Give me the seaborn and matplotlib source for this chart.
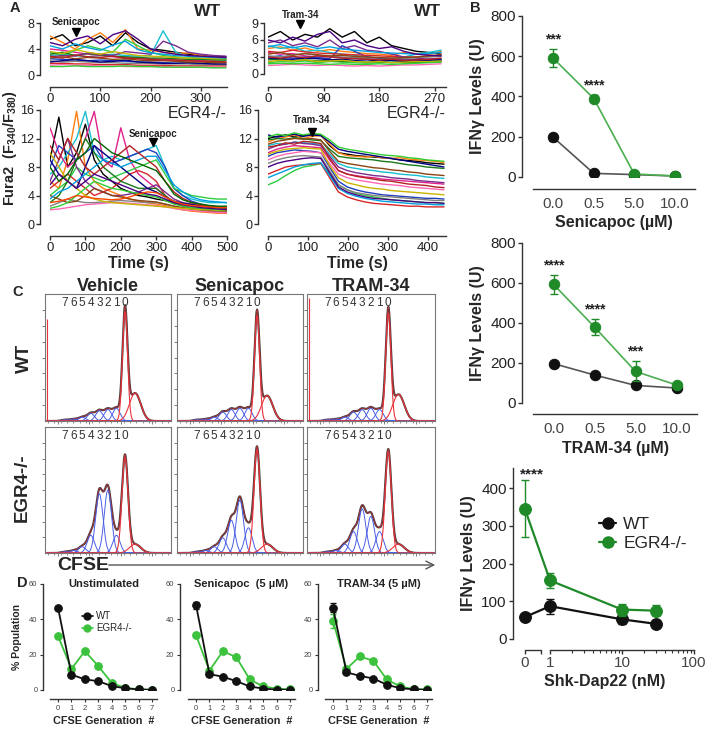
"""
Multi-panel figure: Fura2 calcium traces (A), IFNg levels (B),
CFSE proliferation histograms (C) and generation percentages (D).
"""
import numpy as np
import pandas as pd
import matplotlib
matplotlib.use("Agg")
import matplotlib.pyplot as plt
import matplotlib.transforms as mtransforms
from matplotlib.lines import Line2D
from matplotlib.patches import FancyArrowPatch
import seaborn as sns

sns.set_theme(style="ticks")
plt.rcParams["font.family"] = ["Liberation Sans", "DejaVu Sans"]
plt.rcParams["mathtext.fontset"] = "custom"
plt.rcParams["mathtext.rm"] = "Liberation Sans"
plt.rcParams["mathtext.bf"] = "Liberation Sans:bold"
plt.rcParams["mathtext.it"] = "Liberation Sans:italic"

# ---------------- Panel A: Fura2 ratio traces ----------------
t_wt_sen = [0, 25, 50, 75, 100, 125, 150, 175, 200, 225, 250, 275, 300, 325, 350]
wt_sen_traces = [
    [5.5, 6.2, 4.5, 5.0, 6.0, 4.5, 6.5, 5.0, 4.0, 3.8, 3.5, 3.2, 3.0, 2.8, 2.8],
    [6.0, 5.0, 4.0, 5.5, 6.5, 5.0, 7.0, 4.0, 3.8, 3.5, 3.3, 3.4, 3.0, 2.8, 2.6],
    [3.0, 3.2, 3.0, 2.8, 3.0, 3.2, 3.0, 2.9, 3.0, 6.8, 3.5, 2.8, 2.6, 2.5, 2.4],
    [4.0, 3.8, 3.5, 3.2, 3.0, 2.8, 2.7, 2.6, 2.5, 2.4, 2.3, 2.2, 2.2, 2.1, 2.0],
    [2.5, 2.4, 2.3, 2.2, 2.3, 2.2, 2.1, 2.0, 2.0, 1.9, 1.8, 1.8, 1.7, 1.7, 1.6],
    [3.5, 3.0, 3.8, 4.5, 4.0, 3.5, 5.5, 4.5, 3.5, 3.0, 2.8, 2.6, 2.5, 2.4, 2.3],
    [1.8, 1.8, 1.7, 1.7, 1.6, 1.6, 1.6, 1.5, 1.5, 1.5, 1.4, 1.4, 1.4, 1.4, 1.4],
    [3.2, 3.5, 3.0, 3.3, 3.1, 2.9, 2.8, 2.7, 2.6, 2.6, 2.5, 2.4, 2.4, 2.3, 2.3],
    [1.5, 1.6, 1.5, 1.5, 1.4, 1.4, 1.3, 1.3, 1.3, 1.3, 1.2, 1.2, 1.2, 1.2, 1.2],
    [2.8, 3.0, 2.9, 3.4, 3.2, 3.0, 3.6, 3.4, 3.2, 5.2, 4.5, 3.5, 3.2, 3.0, 2.9],
    [2.2, 2.0, 2.1, 2.0, 1.9, 1.9, 1.8, 1.8, 1.8, 1.7, 1.7, 1.7, 1.6, 1.6, 1.6],
    [2.0, 2.2, 2.4, 2.2, 2.0, 2.1, 2.3, 2.0, 1.9, 1.8, 1.8, 1.9, 1.8, 1.7, 1.7],
    [2.6, 2.8, 2.5, 2.7, 2.6, 2.4, 2.5, 2.3, 2.2, 2.2, 2.1, 2.0, 2.0, 1.9, 1.9],
    [3.6, 3.3, 3.9, 3.5, 3.2, 3.6, 3.3, 3.0, 2.9, 2.8, 2.7, 2.6, 2.6, 2.5, 2.5],
    [4.5, 4.0, 4.8, 4.2, 3.8, 4.6, 5.2, 3.9, 3.4, 3.2, 3.0, 2.9, 2.8, 2.7, 2.6],
    [1.3, 1.3, 1.4, 1.3, 1.3, 1.3, 1.4, 1.3, 1.3, 1.2, 1.2, 1.2, 1.2, 1.1, 1.1],
    [2.9, 2.6, 3.1, 2.8, 2.7, 2.9, 2.6, 2.5, 2.4, 2.3, 2.3, 2.2, 2.1, 2.1, 2.0],
    [5.0, 4.5, 5.5, 6.0, 4.8, 6.2, 6.8, 5.5, 4.0, 3.5, 3.2, 3.0, 2.9, 2.8, 2.7],
]

t_wt_tram = [0, 20, 40, 60, 80, 100, 120, 140, 160, 180, 200, 220, 240, 260, 280]
wt_tram_traces = [
    [6.5, 7.5, 6.0, 7.0, 6.5, 8.0, 6.5, 7.5, 5.5, 6.5, 5.0, 4.5, 4.0, 3.8, 3.5],
    [4.5, 4.8, 4.2, 4.6, 4.0, 4.3, 4.0, 3.8, 3.6, 3.5, 3.3, 3.8, 3.6, 3.4, 4.0],
    [5.0, 4.5, 4.8, 4.0, 4.2, 3.8, 3.5, 3.3, 3.0, 2.8, 2.7, 3.0, 3.5, 3.8, 4.2],
    [3.8, 3.5, 3.6, 3.2, 3.0, 3.1, 2.9, 2.8, 2.7, 2.6, 2.5, 2.4, 2.4, 2.3, 2.3],
    [3.0, 3.2, 2.8, 3.0, 2.9, 2.7, 5.0, 4.0, 3.0, 2.8, 2.6, 2.5, 2.5, 2.6, 2.7],
    [2.0, 2.2, 2.1, 2.3, 2.0, 2.2, 2.1, 2.0, 1.9, 2.0, 2.1, 2.0, 2.2, 2.3, 2.4],
    [4.0, 3.8, 4.2, 3.9, 3.7, 3.6, 3.5, 3.4, 3.3, 3.2, 3.1, 3.0, 3.0, 3.1, 3.2],
    [2.5, 2.6, 2.4, 2.5, 2.3, 2.4, 2.2, 2.3, 2.1, 2.2, 2.0, 2.1, 2.0, 2.1, 2.2],
    [1.5, 1.6, 1.7, 1.6, 1.5, 1.6, 1.5, 1.4, 1.5, 1.4, 1.5, 1.6, 1.6, 1.7, 1.8],
    [5.5, 6.0, 5.0, 5.5, 4.8, 6.0, 4.5, 5.0, 4.2, 4.0, 3.5, 3.0, 2.8, 2.6, 2.5],
    [3.2, 3.0, 3.4, 3.6, 3.3, 3.1, 3.0, 2.9, 2.8, 2.9, 2.8, 2.7, 2.9, 3.0, 3.1],
    [2.8, 2.7, 2.6, 2.8, 2.7, 2.5, 2.6, 2.4, 2.5, 2.3, 2.4, 2.2, 2.3, 2.4, 2.5],
    [3.5, 3.8, 3.3, 3.6, 3.4, 3.2, 3.3, 3.1, 3.0, 2.9, 2.8, 2.9, 3.0, 3.2, 3.4],
    [2.2, 2.4, 2.3, 2.5, 2.2, 2.3, 2.4, 2.2, 2.1, 2.2, 2.0, 2.1, 2.2, 2.2, 2.3],
    [4.8, 5.2, 4.6, 5.0, 4.5, 4.8, 4.4, 4.2, 4.0, 3.8, 3.7, 3.6, 3.5, 3.6, 3.8],
    [1.8, 1.9, 1.8, 1.9, 1.8, 1.7, 1.8, 1.7, 1.7, 1.8, 1.7, 1.8, 1.9, 2.0, 2.1],
    [3.0, 2.8, 3.1, 2.9, 3.2, 3.0, 2.8, 2.7, 2.6, 2.5, 2.6, 2.4, 2.5, 2.6, 2.8],
    [6.0, 5.5, 6.5, 5.8, 7.0, 7.5, 5.5, 6.0, 5.0, 4.5, 4.8, 4.0, 3.5, 3.3, 3.2],
]

t_egr_sen = [0, 25, 50, 75, 100, 125, 150, 175, 200, 225, 250, 275, 300, 325, 350,
             375, 400, 425, 450, 475, 500]
egr_sen_traces = [
    [9, 15, 8, 10, 14, 9, 7, 6, 5, 4.5, 4, 3.8, 3.5, 3.3, 3.0, 2.8, 2.6, 2.5, 2.4, 2.3, 2.3],
    [6, 5, 9, 15.8, 8, 6, 5, 4.5, 4, 3.5, 3.2, 3, 2.8, 2.6, 2.2, 2, 1.8, 1.7, 1.6, 1.5, 1.5],
    [7, 8, 10, 12, 15.8, 10, 9, 9.5, 9, 9.5, 10, 10.5, 11, 8, 5, 4, 3.5, 3.2, 3, 3, 3],
    [13.5, 10, 8, 9, 12, 15.8, 9, 8, 13.5, 9, 7, 6, 5, 4, 3, 2.5, 2.2, 2, 1.8, 1.7, 1.6],
    [8, 11, 10, 9, 10, 11, 9, 8.5, 9, 9.5, 10, 10.5, 10, 8, 5, 4, 3.2, 2.8, 2.5, 2.4, 2.3],
    [4, 5, 6, 8, 7, 6.5, 6, 6.5, 7, 7.5, 8, 8.5, 9, 7, 5, 4.5, 4, 3.8, 3.6, 3.5, 3.5],
    [5, 6, 7, 6, 5, 4, 4.5, 5, 6, 7, 7.5, 7, 6, 4, 3, 2.6, 2.3, 2.1, 2.0, 1.9, 1.8],
    [3, 4, 6, 9, 12, 10, 8, 7, 6, 5.5, 5, 5, 5, 4, 3, 2.8, 2.6, 2.5, 2.4, 2.3, 2.2],
    [2, 2.1, 2.3, 2.5, 2.7, 2.8, 2.9, 3, 3, 2.9, 2.8, 2.7, 2.6, 2.4, 2.2, 2, 1.9, 1.8, 1.7, 1.6, 1.6],
    [6, 9, 12, 8, 6, 5, 4.5, 4, 4, 4.2, 4.5, 5, 5.5, 4.5, 3.5, 3, 2.8, 2.6, 2.5, 2.4, 2.4],
    [2.5, 3, 3.5, 3.2, 3, 3, 3.1, 3.2, 3.3, 3.2, 3.1, 3, 3, 2.8, 2.5, 2.3, 2.1, 2, 1.9, 1.8, 1.8],
    [9, 7, 6, 5, 8, 11, 10, 9, 8, 7, 6, 5, 4.5, 3.8, 3.2, 2.9, 2.7, 2.5, 2.4, 2.3, 2.3],
    [4, 3.5, 3, 3.2, 4, 5, 4.5, 4, 3.8, 3.5, 3.3, 3.2, 3.1, 2.8, 2.5, 2.3, 2.1, 2, 1.9, 1.9, 1.8],
    [10, 8, 6, 5, 4, 3.5, 3.2, 3, 2.9, 2.8, 2.7, 2.6, 2.5, 2.4, 2.3, 2.2, 2.1, 2, 2, 1.9, 1.9],
    [3.5, 4.5, 5, 6, 7, 8, 9, 8.5, 8, 8.5, 9, 9.5, 9.5, 7.5, 5.5, 4.5, 3.8, 3.4, 3.2, 3.1, 3.0],
    [2.2, 2.5, 3, 4, 5, 6, 5.5, 5, 4.8, 4.5, 4.3, 4.0, 3.8, 3.3, 2.8, 2.5, 2.3, 2.2, 2.1, 2.0, 2.0],
    [11, 9, 12, 10, 8, 7, 8, 9, 10, 11, 10, 9, 8, 6, 4.5, 3.6, 3.0, 2.7, 2.5, 2.4, 2.3],
    [5.5, 7, 6, 5, 6, 7, 6.5, 6, 5.5, 5, 4.5, 4.2, 4, 3.5, 3, 2.7, 2.5, 2.3, 2.2, 2.1, 2.0],
    [3, 3.2, 3.5, 4, 3.8, 3.6, 3.5, 3.4, 3.5, 3.8, 4.2, 4.5, 4.4, 3.8, 3.2, 2.8, 2.6, 2.5, 2.4, 2.3, 2.3],
    [8, 6, 7, 9, 10, 12, 11, 10, 9.5, 9, 8.5, 8, 7.5, 6, 4.2, 3.4, 3.0, 2.8, 2.6, 2.5, 2.5],
]

t_egr_tram = [0, 22, 44, 66, 88, 110, 132, 154, 176, 198, 220, 242, 264, 286, 308,
              330, 352, 374, 396, 418, 440]
egr_tram_traces = [
    [12, 12.3, 12.5, 12.2, 12.4, 12.6, 12.5, 11, 10, 9.8, 9.6, 9.5, 9.4, 9.3, 9.2, 9.0, 8.9, 8.8, 8.6, 8.5, 8.4],
    [11.5, 12, 12.2, 12.5, 12, 12.3, 12.4, 11.2, 10, 9.6, 9.5, 9.4, 9.5, 9.3, 9.2, 9.3, 9.1, 9.0, 8.9, 8.8, 8.6],
    [11, 11.3, 11.2, 11.5, 11.4, 11.3, 11.2, 9.8, 8.5, 8.0, 7.8, 7.6, 7.5, 7.3, 7.2, 7.0, 6.9, 6.8, 6.6, 6.5, 6.4],
    [10, 10.5, 10.8, 11, 10.9, 10.8, 10.7, 9, 7.5, 7, 6.8, 6.6, 6.5, 6.3, 6.2, 6.1, 6.0, 5.9, 5.8, 5.7, 5.6],
    [9.5, 10, 10.2, 10.4, 10.3, 10.2, 10, 8, 6, 5.2, 4.8, 4.5, 4.3, 4.1, 4.0, 3.9, 3.8, 3.7, 3.6, 3.6, 3.5],
    [5.5, 6, 6.8, 7.5, 8, 8.2, 8.5, 7, 5.5, 4.8, 4.3, 4.0, 3.8, 3.6, 3.4, 3.3, 3.2, 3.1, 3.0, 3.0, 2.9],
    [7, 7.5, 8, 8.2, 8.3, 8.4, 8.5, 6.5, 4.5, 3.8, 3.4, 3.1, 2.9, 2.8, 2.7, 2.6, 2.5, 2.5, 2.4, 2.4, 2.4],
    [11.8, 12, 11.9, 12.1, 12, 11.8, 11.7, 10.5, 9.5, 9.3, 9.2, 9.1, 9.0, 8.8, 8.7, 8.5, 8.3, 8.2, 8.0, 7.9, 7.8],
    [9, 9.5, 9.8, 10, 10.2, 10.1, 10, 8.5, 7, 6.5, 6.2, 6.0, 5.8, 5.6, 5.5, 5.4, 5.2, 5.1, 5.0, 4.9, 4.8],
    [10.5, 11, 11.2, 11.5, 11.3, 11.2, 11, 9.5, 8, 7.5, 7.2, 7.0, 6.8, 6.7, 6.5, 6.4, 6.3, 6.1, 6.0, 5.9, 5.8],
    [8.5, 9, 9.3, 9.5, 9.6, 9.5, 9.4, 7.5, 5.5, 4.8, 4.4, 4.2, 4.0, 3.9, 3.8, 3.7, 3.6, 3.5, 3.4, 3.3, 3.3],
    [12.5, 12.2, 12.4, 12.6, 12.3, 12.5, 12.4, 11.5, 10.5, 10.2, 10.0, 9.8, 9.6, 9.4, 9.2, 9.0, 8.8, 8.6, 8.4, 8.2, 8.0],
    [11.2, 11.6, 11.8, 12, 11.9, 12, 11.8, 10.2, 8.8, 8.5, 8.3, 8.1, 7.9, 7.8, 7.6, 7.5, 7.3, 7.2, 7.0, 6.9, 6.8],
    [9.8, 10.2, 10.5, 10.6, 10.7, 10.6, 10.5, 8.2, 6.5, 5.8, 5.5, 5.2, 5.0, 4.9, 4.7, 4.6, 4.5, 4.4, 4.3, 4.2, 4.1],
    [6.5, 7, 7.5, 8, 8.3, 8.5, 8.6, 6.8, 5, 4.3, 3.9, 3.6, 3.4, 3.2, 3.1, 3.0, 2.9, 2.8, 2.8, 2.7, 2.7],
    [12.2, 12.6, 12.4, 12.8, 12.5, 12.7, 12.6, 11.8, 10.8, 10.5, 10.3, 10.1, 9.9, 9.7, 9.6, 9.5, 9.3, 9.2, 9.0, 8.9, 8.8],
    [10.8, 11, 11.4, 11.2, 11.6, 11.5, 11.3, 9.2, 7.5, 7.0, 6.7, 6.5, 6.3, 6.1, 6.0, 5.8, 5.6, 5.5, 5.4, 5.2, 5.1],
    [8, 8.5, 8.8, 9, 9.2, 9.3, 9.2, 7.2, 5.2, 4.5, 4.1, 3.8, 3.6, 3.5, 3.4, 3.3, 3.2, 3.1, 3.0, 3.0, 2.9],
]

# drug addition markers: (time, ratio) and label lift in points
sen_add_wt = (52, 6.6, 7)
tram_add_wt = (52, 8.9, 6)
sen_add_egr = (291, 11.5, 6)
tram_add_egr = (110, 12.9, 9)

TRACE_COLORS = ["#000000", "#ff7f0e", "#17becf", "#e0218a", "#1f3fbf", "#2ecc40",
                "#d62728", "#1a7a1a", "#ff69b4", "#7b2d8e", "#808080", "#000080",
                "#8b4513", "#c8b400", "#00a0e0", "#32cd32", "#b22222", "#4b0082",
                "#ff4500", "#006400"]

# ---------------- Panel B: IFNg levels ----------------
dose_labels = ["0.0", "0.5", "5.0", "10.0"]
sen_wt = [197, 18, 12, 5]
sen_wt_err = [18, 5, 4, 3]
sen_egr = [590, 390, 15, 5]
sen_egr_err = [45, 15, 5, 3]
sen_stars = ["***", "****", "", ""]

tram_wt = [197, 140, 88, 75]
tram_wt_err = [15, 10, 8, 6]
tram_egr = [593, 380, 158, 90]
tram_egr_err = [48, 40, 50, 8]
tram_stars = ["****", "****", "***", ""]

shk_dose = [0, 1, 10, 30]
shk_wt = [58, 87, 52, 40]
shk_wt_err = [9, 20, 13, 5]
shk_egr = [345, 155, 78, 75]
shk_egr_err = [75, 21, 16, 15]
shk_stars = ["****", "", "", ""]
ZERO_POS = -0.35  # where dose 0 sits on the broken log axis (log10 units)

# ---------------- Panel C: CFSE dilution peaks ----------------
c_conditions = ["Vehicle", "Senicapoc", "TRAM-34"]
# peak heights of generations 0..7 (fraction of plot height)
c_wt_peaks = [
    [0.86, 0.10, 0.09, 0.08, 0.06, 0.03, 0.015, 0.01],
    [0.83, 0.10, 0.10, 0.09, 0.07, 0.03, 0.015, 0.01],
    [0.85, 0.09, 0.10, 0.09, 0.07, 0.03, 0.015, 0.01],
]
c_wt_tail = [0.22, 0.20, 0.21]
c_wt_debris = [0.80, 0.0, 0.97]
c_egr_peaks = [
    [0.76, 0.14, 0.50, 0.47, 0.14, 0.05, 0.02, 0.01],
    [0.82, 0.20, 0.42, 0.26, 0.12, 0.05, 0.02, 0.01],
    [0.80, 0.17, 0.29, 0.35, 0.17, 0.07, 0.02, 0.01],
]
c_egr_tail = [0.07, 0.07, 0.07]
c_egr_debris = [0.0, 0.0, 0.0]
GEN0_X, GEN_STEP = 0.635, 0.068

# ---------------- Panel D: % population per generation ----------------
gens = [0, 1, 2, 3, 4, 5, 6, 7]
d_titles = ["Unstimulated", "Senicapoc  (5 µM)", "TRAM-34 (5 µM)"]
d_wt = [
    [46.5, 8.7, 6.0, 5.0, 2.2, 1.0, 0.3, 0.1],
    [48.0, 9.0, 7.5, 5.0, 2.0, 0.8, 0.2, 0.1],
    [46.5, 10.0, 8.0, 6.5, 3.0, 1.0, 0.4, 0.1],
]
d_wt_err = [
    [1.0, 0.8, 0.5, 0.5, 0.3, 0.2, 0.1, 0.1],
    [2.0, 0.8, 0.5, 0.5, 0.3, 0.2, 0.1, 0.1],
    [2.5, 0.8, 0.5, 0.5, 0.4, 0.2, 0.1, 0.1],
]
d_egr = [
    [30.5, 12.0, 22.0, 13.5, 4.0, 1.2, 0.4, 0.1],
    [31.0, 11.0, 22.0, 18.5, 6.0, 2.0, 0.8, 0.3],
    [39.0, 12.0, 19.0, 16.5, 6.0, 2.0, 0.5, 0.3],
]
d_egr_err = [
    [1.0, 1.0, 1.0, 1.0, 0.5, 0.3, 0.1, 0.1],
    [1.0, 1.0, 1.0, 1.0, 0.5, 0.3, 0.2, 0.1],
    [4.0, 1.0, 1.0, 1.0, 0.5, 0.3, 0.1, 0.1],
]

BLACK = "#111111"
GREEN_B = "#1f8a27"
GREEN_B_LINE = "#4cae4f"
GREEN_D = "#3cc23c"
SPINE = "#333333"

W, H = 709, 730
fig = plt.figure(figsize=(W / 100, H / 100), dpi=100)


def add_ax(l, t, r, b):
    """Axes from pixel box (left, top, right, bottom)."""
    return fig.add_axes([l / W, 1 - b / H, (r - l) / W, (b - t) / H])


def style_axis(ax, left_px=0, bottom_px=0, tick_size=10):
    ax.spines[["top", "right"]].set_visible(False)
    ax.spines["left"].set_position(("outward", left_px * 0.72))
    ax.spines["bottom"].set_position(("outward", bottom_px * 0.72))
    for s in ("left", "bottom"):
        ax.spines[s].set_linewidth(1.0)
        ax.spines[s].set_color(SPINE)
    ax.tick_params(labelsize=tick_size, length=3, width=1.0, color=SPINE,
                   labelcolor="#222222", pad=1.5)
    ax.set_xlabel("")
    ax.set_ylabel("")
    ax.patch.set_alpha(0)


def draw_traces(ax, t, traces):
    df = pd.DataFrame({f"c{i:02d}": tr for i, tr in enumerate(traces)}, index=t)
    df = df.reset_index(names="t").melt(id_vars="t", var_name="cell", value_name="ratio")
    sns.lineplot(data=df, x="t", y="ratio", hue="cell", palette=TRACE_COLORS[:len(traces)],
                 legend=False, ax=ax, lw=1.0, estimator=None, sort=False)


# ---- Panel A ----
a_specs = [
    ((50, 23, 227, 75), t_wt_sen, wt_sen_traces, 352, [0, 100, 200, 300], 8, [0, 4, 8], 10, 12,
     sen_add_wt, "Senicapoc"),
    ((268, 23, 446, 74), t_wt_tram, wt_tram_traces, 288, [0, 90, 180, 270], 9, [0, 3, 6, 9], 4, 13,
     tram_add_wt, "Tram-34"),
    ((50, 110, 227, 224), t_egr_sen, egr_sen_traces, 500, [0, 100, 200, 300, 400, 500], 16,
     [0, 4, 8, 12, 16], 10, 12, sen_add_egr, "Senicapoc"),
    ((268, 110, 446, 224), t_egr_tram, egr_tram_traces, 445, [0, 100, 200, 300, 400], 16,
     [0, 4, 8, 12, 16], 10, 12, tram_add_egr, "Tram-34"),
]
a_axes = []
for box, t, traces, xmax, xt, ymax, yt, loff, boff, add, drug in a_specs:
    ax = add_ax(*box)
    draw_traces(ax, t, traces)
    ax.set_xlim(0, xmax)
    ax.set_ylim(0, ymax)
    ax.set_xticks(xt)
    ax.set_yticks(yt)
    style_axis(ax, loff, boff, 9.5)
    ax.tick_params(axis="y", labelsize=9, pad=1)
    ax.plot([add[0]], [add[1]], marker="v", color="black", ms=6, clip_on=False)
    ax.annotate(drug, xy=(add[0], add[1]), xytext=(0, add[2]), textcoords="offset points",
                ha="center", va="center", fontsize=7, fontweight="bold", color="#222222")
    a_axes.append(ax)

for ax in a_axes[2:]:
    ax.set_xlabel("Time (s)", fontsize=11.5, fontweight="bold", labelpad=1)

fig.text(208 / W, 1 - 11 / H, "WT", fontsize=12.5, fontweight="bold", ha="center", va="center")
fig.text(428 / W, 1 - 11 / H, "WT", fontsize=12.5, fontweight="bold", ha="center", va="center")
fig.text(227 / W, 1 - 113 / H, "EGR4-/-", fontsize=11.5, ha="right", va="center")
fig.text(446 / W, 1 - 113 / H, "EGR4-/-", fontsize=11.5, ha="right", va="center")
fig.text(10 / W, 1 - 148 / H, r"Fura2  (F$\mathbf{_{340}}$/F$\mathbf{_{380}}$)", rotation=90,
         fontsize=10.5, fontweight="bold", ha="center", va="center")

# ---- Panel B ----
pos = list(range(len(dose_labels)))
b_specs = [
    ((533, 16, 695, 177), sen_wt, sen_wt_err, sen_egr, sen_egr_err, sen_stars, "Senicapoc (µM)", 12),
    ((533, 243, 697, 403), tram_wt, tram_wt_err, tram_egr, tram_egr_err, tram_stars, "TRAM-34 (µM)", 11),
]
for box, wt, wt_err, egr, egr_err, stars, xlabel, boff in b_specs:
    ax = add_ax(*box)
    sns.lineplot(x=pos, y=wt, color="#555555", lw=1.2, marker="o", ms=7.5,
                 markerfacecolor=BLACK, markeredgecolor=BLACK, ax=ax)
    ax.errorbar(pos, wt, yerr=wt_err, fmt="none", ecolor=BLACK, elinewidth=1, capsize=3)
    sns.lineplot(x=pos, y=egr, color=GREEN_B_LINE, lw=1.2, marker="o", ms=7.5,
                 markerfacecolor=GREEN_B, markeredgecolor=GREEN_B, ax=ax)
    ax.errorbar(pos, egr, yerr=egr_err, fmt="none", ecolor=GREEN_B, elinewidth=1, capsize=3)
    for p, v, e, s in zip(pos, egr, egr_err, stars):
        if s:
            ax.text(p, v + e + 48, s, ha="center", va="center", fontsize=10,
                    fontweight="bold", color="#222222")
    ax.set_xlim(-0.5, 3.5)
    ax.set_ylim(0, 800)
    ax.set_yticks([0, 200, 400, 600, 800])
    style_axis(ax, 11, boff, 11)
    ax.set_xticks(pos, dose_labels)
    ax.tick_params(axis="x", length=0, pad=6, labelcolor="#444444")
    ax.set_xlabel(xlabel, fontsize=11.5, fontweight="bold", labelpad=3)
    ax.set_ylabel("IFNγ Levels (U)", fontsize=11.5, fontweight="bold", labelpad=4)

# broken log axis for Shk-Dap22
ax = add_ax(513, 468, 697, 639)
xpos = [ZERO_POS if d == 0 else np.log10(d) for d in shk_dose]
sns.lineplot(x=xpos, y=shk_wt, color=BLACK, lw=1.6, marker="o", ms=8.5,
             markeredgecolor=BLACK, ax=ax)
ax.errorbar(xpos, shk_wt, yerr=shk_wt_err, fmt="none", ecolor=BLACK, elinewidth=1, capsize=3)
sns.lineplot(x=xpos, y=shk_egr, color=GREEN_B, lw=1.6, marker="o", ms=8.5,
             markeredgecolor=GREEN_B, ax=ax)
ax.errorbar(xpos, shk_egr, yerr=shk_egr_err, fmt="none", ecolor=GREEN_B, elinewidth=1, capsize=3)
for p, v, e, s in zip(xpos, shk_egr, shk_egr_err, shk_stars):
    if s:
        ax.text(p + 0.1, v + e + 17, s, ha="center", va="center", fontsize=11,
                fontweight="bold", color="#222222")
ax.set_xlim(-0.514, 2.04)
ax.set_ylim(0, 453)
ax.set_yticks([0, 100, 200, 300, 400])
style_axis(ax, 0, 11, 11)
ax.spines["bottom"].set_bounds(0, 2)
ax.set_xticks([ZERO_POS, -0.12, 0, 1, 2], ["0", "", "1", "10", "100"])
minor = [np.log10(m * d) for d in (1, 10) for m in range(2, 10)]
ax.set_xticks(minor, minor=True)
ax.tick_params(axis="x", which="minor", length=2, width=0.8, color=SPINE)
ax.tick_params(axis="x", labelcolor="#444444")
trans = mtransforms.blended_transform_factory(ax.transData, ax.transAxes)
ax.plot([ZERO_POS, -0.12], [-11 / 171, -11 / 171], transform=trans, color=SPINE,
        lw=1.0, clip_on=False)
ax.set_xlabel("Shk-Dap22 (nM)", fontsize=11.5, fontweight="bold", labelpad=3)
ax.set_ylabel("IFNγ Levels (U)", fontsize=11.5, fontweight="bold", labelpad=4)
handles = [Line2D([], [], color=BLACK, marker="o", ms=8, lw=1.6),
           Line2D([], [], color=GREEN_B, marker="o", ms=8, lw=1.6)]
ax.legend(handles, ["WT", "EGR4-/-"], loc="center left", bbox_to_anchor=(0.42, 0.615),
          frameon=False, fontsize=12.5, handlelength=1.0, handletextpad=0.4,
          labelspacing=0.25, borderpad=0)

# ---- Panel C ----
xg = np.linspace(0, 1, 600)


def gauss(x, mu, s):
    return np.exp(-0.5 * ((x - mu) / s) ** 2)


c_cols = [(45, 171), (177, 303), (307, 435)]
c_rows = [(294, 421, c_wt_peaks, c_wt_tail, c_wt_debris, 0.02),
          (427, 553, c_egr_peaks, c_egr_tail, c_egr_debris, 0.024)]
for top, bot, peaks_set, tails, debris, sig0 in c_rows:
    for (l, r), peaks, tail_h, deb in zip(c_cols, peaks_set, tails, debris):
        ax = add_ax(l, top, r, bot)
        comps = [h * gauss(xg, GEN0_X - g * GEN_STEP, sig0 if g == 0 else 0.029)
                 for g, h in enumerate(peaks)]
        tail = tail_h * gauss(xg, GEN0_X + 0.08, 0.045)
        total = np.sum(comps, axis=0) + tail
        ax.plot(xg, total, color="#3a3a3a", lw=1.5)
        ax.plot(xg, total, color="#e8333a", lw=0.6, alpha=0.7)
        for comp in comps[1:]:
            ax.plot(xg, comp, color="#4a5ee8", lw=0.7)
        ax.plot(xg, comps[0], color="#e8333a", lw=0.8)
        ax.plot(xg, tail, color="#e8333a", lw=0.8)
        if deb > 0:
            ax.vlines(0.012, 0, deb, color="#e8333a", lw=0.8)
        for g in range(len(peaks)):
            ax.text(GEN0_X - g * GEN_STEP, 0.93, str(g), ha="center", va="center",
                    fontsize=8.5, color="#333333")
        ax.set_xlim(0, 1)
        ax.set_ylim(0, 1)
        ax.set_yticks(np.arange(0.125, 1, 0.125), [])
        ax.set_xticks([0.1, 0.35, 0.6, 0.85], [])
        ax.set_xticks(np.arange(0.025, 1, 0.05), minor=True)
        ax.tick_params(axis="both", which="major", length=2, width=0.6, color="#666666")
        ax.tick_params(axis="x", which="minor", length=1.2, width=0.5, color="#666666", bottom=True)
        for s in ax.spines.values():
            s.set_color("#777777")
            s.set_linewidth(0.8)

for (l, r), name in zip(c_cols, c_conditions):
    fig.text((l + r) / 2 / W, 1 - 286 / H, name, fontsize=13, fontweight="bold",
             ha="center", va="center")
fig.text(24 / W, 1 - 358 / H, "WT", rotation=90, fontsize=13.5, fontweight="bold",
         ha="center", va="center")
fig.text(22 / W, 1 - 488 / H, "EGR4-/-", rotation=90, fontsize=13.5, fontweight="bold",
         ha="center", va="center")
fig.text(83 / W, 1 - 566 / H, "CFSE", fontsize=14, fontweight="bold", ha="center", va="center")
fig.add_artist(FancyArrowPatch((106 / W, 1 - 565 / H), (438 / W, 1 - 565 / H),
                               transform=fig.transFigure, arrowstyle="->", mutation_scale=14,
                               color="#555555", lw=1.0))

# ---- Panel D ----
d_boxes = [(50, 584, 157, 690, 7), (188, 584, 295, 690, 8), (325, 584, 432, 690, 7)]
for i, ((l, t, r, b, loff), title) in enumerate(zip(d_boxes, d_titles)):
    ax = add_ax(l, t, r, b)
    sns.lineplot(x=gens, y=d_egr[i], color=GREEN_D, lw=1.3, marker="o", ms=5.5,
                 markeredgecolor=GREEN_D, ax=ax)
    ax.errorbar(gens, d_egr[i], yerr=d_egr_err[i], fmt="none", ecolor=GREEN_D, elinewidth=0.8, capsize=2)
    sns.lineplot(x=gens, y=d_wt[i], color=BLACK, lw=1.3, marker="o", ms=5.5,
                 markeredgecolor=BLACK, ax=ax)
    ax.errorbar(gens, d_wt[i], yerr=d_wt_err[i], fmt="none", ecolor=BLACK, elinewidth=0.8, capsize=2)
    ax.set_xlim(-0.6, 7.37)
    ax.set_ylim(0, 60)
    ax.set_xticks(gens)
    ax.set_yticks([0, 20, 40, 60])
    style_axis(ax, loff, 9, 5.5)
    ax.tick_params(length=2.5, width=0.8, labelcolor="#444444")
    ax.text(0.5, 1.0, title, transform=ax.transAxes, ha="center", va="center",
            fontsize=8, fontweight="bold", color="#222222")
    ax.set_xlabel("CFSE Generation  #", fontsize=7.8, fontweight="bold", labelpad=3)
    if i == 0:
        ax.set_ylabel("% Population", fontsize=7.5, fontweight="bold", labelpad=5)
        handles = [Line2D([], [], color=BLACK, marker="o", ms=5, lw=1.2),
                   Line2D([], [], color=GREEN_D, marker="o", ms=5, lw=1.2)]
        ax.legend(handles, ["WT", "EGR4-/-"], loc="center left", bbox_to_anchor=(0.25, 0.64),
                  frameon=False, fontsize=7, handlelength=1.2, handletextpad=0.3,
                  labelspacing=0.2, borderpad=0)

# panel letters
for letter, (x, y) in {"A": (15, 8), "B": (475, 8), "C": (18, 292), "D": (22, 583)}.items():
    fig.text(x / W, 1 - y / H, letter, fontsize=10.5, fontweight="bold", ha="center", va="center")

fig.savefig("out.png", dpi=100)
